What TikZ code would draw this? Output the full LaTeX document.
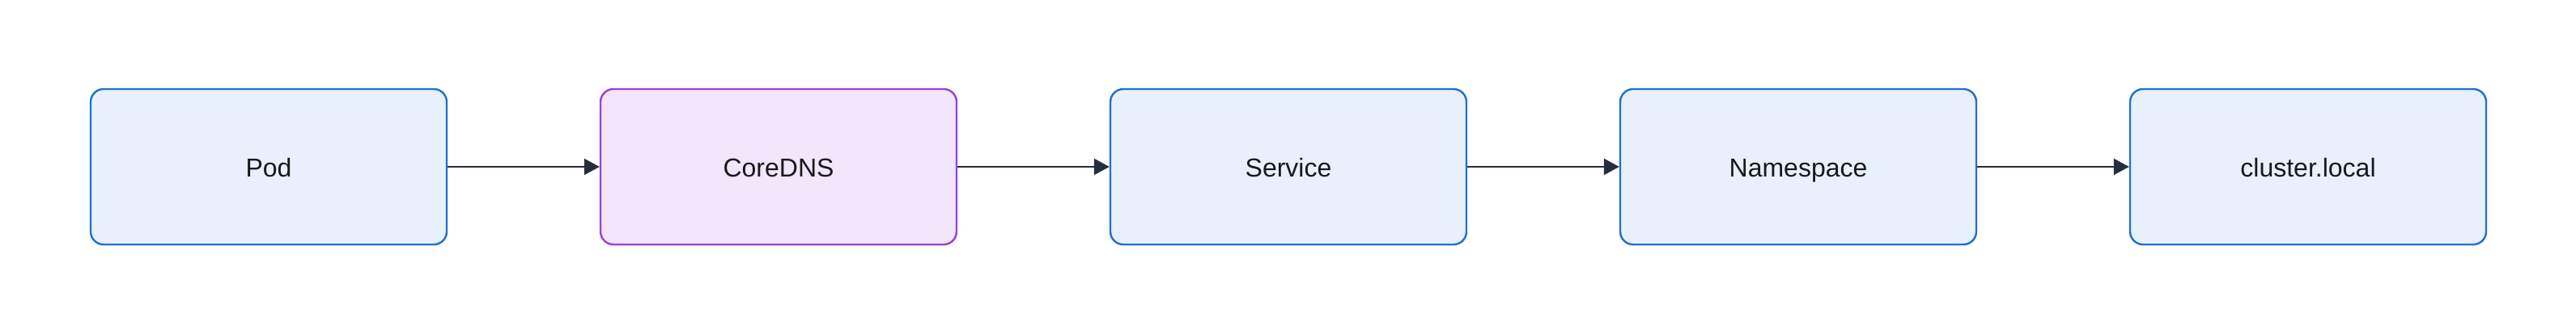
\documentclass[tikz,border=0pt]{standalone}
\usepackage{fontspec}
\setmainfont{Liberation Sans}
\usetikzlibrary{arrows.meta,positioning}

\definecolor{podfill}{HTML}{E8F0FC}
\definecolor{podline}{HTML}{1E70D0}
\definecolor{dnsfill}{HTML}{F1E6FB}
\definecolor{dnsline}{HTML}{9B3FD6}
\definecolor{flowline}{HTML}{262E3B}

\begin{document}
\begin{tikzpicture}[->,>={Triangle[length=9.5pt,width=10pt]},line width=1pt,
                    node distance=93.8pt,draw=flowline,
                    font=\fontsize{16}{19}\selectfont]
 % \tikzstyle{box}=[fill=gray!10]
  \tikzstyle{box}=[draw=podline,fill=podfill,line width=1.2pt,rounded corners=8pt,
                   minimum width=220pt,minimum height=96pt,text=black!90,
                   text height=13pt,text depth=0pt]
  \tikzstyle{dnsbox}=[box,draw=dnsline,fill=dnsfill]

  \useasboundingbox (0,0) rectangle (1591.5pt,207.5pt);

  \node[box]    (pod)     at (166pt,104.5pt) {Pod};
  \node[dnsbox] (coredns) [right=of pod]     {CoreDNS};
  \node[box]    (svc)     [right=of coredns] {Service};
  \node[box]    (ns)      [right=of svc]     {Namespace};
  \node[box]    (cluster) [right=of ns]      {cluster.local};

  \path (pod)     edge[flowline] (coredns);
  \path (coredns) edge[flowline] (svc);
  \path (svc)     edge[flowline] (ns);
  \path (ns)      edge[flowline] (cluster);
\end{tikzpicture}
\end{document}
